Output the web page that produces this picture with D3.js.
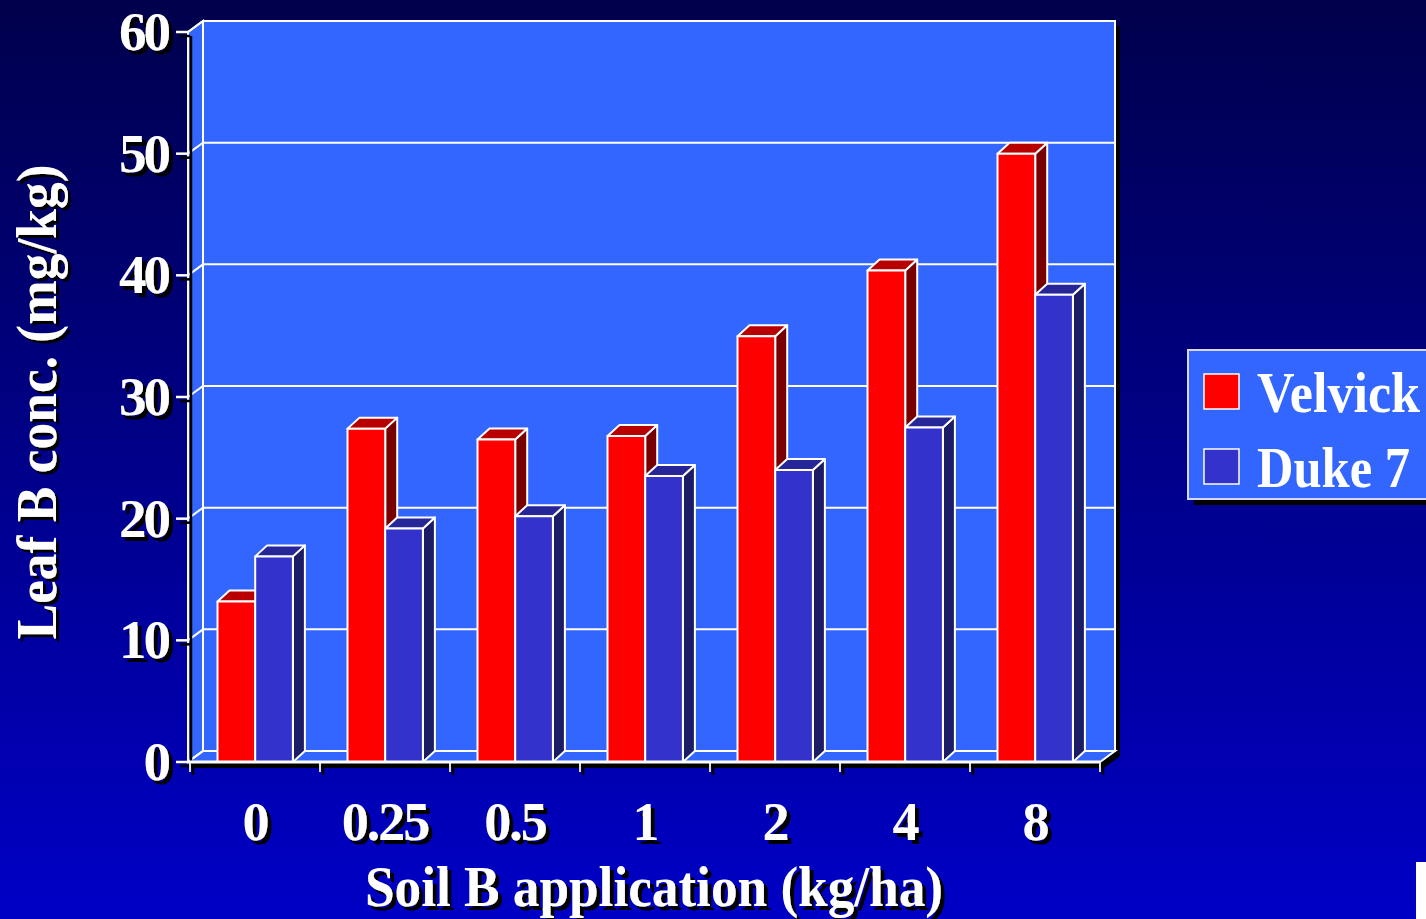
<!DOCTYPE html>
<html>
<head>
<meta charset="utf-8">
<script src="https://cdn.jsdelivr.net/npm/d3@7"></script>
<style>
  html, body { margin: 0; padding: 0; background: #000; }
  svg { display: block; }
  text { font-family: "Liberation Serif", "Times New Roman", serif; font-weight: bold; }
</style>
</head>
<body>
<svg id="chart" width="1426" height="919"></svg>
<script>
// Leaf boron concentration by soil boron application rate
const categories = ["0", "0.25", "0.5", "1", "2", "4", "8"];
const seriesNames = ["Velvick", "Duke 7"];
const velvick = [13.2, 27.4, 26.5, 26.8, 35.0, 40.4, 50.0];
const duke7 = [16.9, 19.2, 20.2, 23.5, 24.0, 27.5, 38.4];
const yTicks = [0, 10, 20, 30, 40, 50, 60];

const seriesValues = [velvick, duke7];
const faceColors = [
  { front: "#ff0000", top: "#b80000", side: "#780000" },
  { front: "#3333cc", top: "#262699", side: "#1c1c66" }
];

const W = 1426, H = 919;
const svg = d3.select("#chart");

// background gradient
const defs = svg.append("defs");
const bg = defs.append("linearGradient").attr("id", "bg").attr("x1", 0).attr("y1", 0).attr("x2", 0).attr("y2", 1);
bg.append("stop").attr("offset", "0%").attr("stop-color", "#00004c");
bg.append("stop").attr("offset", "100%").attr("stop-color", "#0000c6");
svg.append("rect").attr("width", W).attr("height", H).attr("fill", "url(#bg)");

// black drop shadow for labels
function makeShadow(id, dx, dy) {
  const f = defs.append("filter").attr("id", id)
    .attr("x", "-10%").attr("y", "-20%").attr("width", "130%").attr("height", "150%");
  f.append("feOffset").attr("in", "SourceAlpha").attr("dx", dx).attr("dy", dy).attr("result", "off");
  const m = f.append("feMerge");
  m.append("feMergeNode").attr("in", "off");
  m.append("feMergeNode").attr("in", "SourceGraphic");
}
makeShadow("shadow", 3.5, 3.5);
makeShadow("shadowR", -3, 3); // for text rotated by -90deg

// scales (front plane)
const left = 188, right = 1100;
const y = d3.scaleLinear().domain([0, 60]).range([762, 32]);
const x0 = d3.scaleBand().domain(categories).range([190, 1100]);
const x1 = d3.scaleBand().domain(seriesNames).range([27.5, 27.5 + 75.4]);

// wall depth and bar depth offsets
const DX = 15, DY = -11;
const BDX = 12, BDY = -11;
const y0 = y(0), yTop = y(60);

const line = d3.line();

// drop shadow of the chart frame
svg.append("path")
  .attr("d", line([[left, yTop], [left + DX, yTop + DY], [right + DX, yTop + DY], [right + DX, y0 + DY], [right, y0], [left, y0]]) + "Z")
  .attr("transform", "translate(5,5)")
  .attr("fill", "#000");

const wallFill = "#3366ff";
const stroke = "#ffffff";

// back wall
svg.append("rect")
  .attr("x", left + DX).attr("y", yTop + DY)
  .attr("width", right - left).attr("height", y0 - yTop)
  .attr("fill", wallFill).attr("stroke", stroke).attr("stroke-width", 2);

// left side wall
svg.append("path")
  .attr("d", line([[left, y0], [left + DX, y0 + DY], [left + DX, yTop + DY], [left, yTop]]) + "Z")
  .attr("fill", wallFill).attr("stroke", stroke).attr("stroke-width", 2);

// floor
svg.append("path")
  .attr("d", line([[left, y0], [right, y0], [right + DX, y0 + DY], [left + DX, y0 + DY]]) + "Z")
  .attr("fill", wallFill).attr("stroke", stroke).attr("stroke-width", 2);

// gridlines on the back and side walls
const grid = svg.append("g").attr("stroke", stroke).attr("stroke-width", 2).attr("fill", "none");
yTicks.forEach(v => {
  grid.append("path").attr("d", line([[left, y(v)], [left + DX, y(v) + DY], [right + DX, y(v) + DY]]));
});

// 3D bars
const bars = svg.append("g").attr("stroke", stroke).attr("stroke-width", 2).attr("stroke-linejoin", "round");
categories.forEach((c, i) => {
  seriesNames.forEach((s, k) => {
    const v = seriesValues[k][i];
    const xb = x0(c) + x1(s);
    const w = x1.bandwidth();
    const yt = y(v);
    const col = faceColors[k];
    bars.append("path")
      .attr("d", line([[xb + w, yt], [xb + w + BDX, yt + BDY], [xb + w + BDX, y0 + BDY], [xb + w, y0]]) + "Z")
      .attr("fill", col.side);
    bars.append("path")
      .attr("d", line([[xb, yt], [xb + BDX, yt + BDY], [xb + w + BDX, yt + BDY], [xb + w, yt]]) + "Z")
      .attr("fill", col.top);
    bars.append("rect")
      .attr("x", xb).attr("y", yt).attr("width", w).attr("height", y0 - yt)
      .attr("fill", col.front);
  });
});

// y axis
const yAxis = svg.append("g");
yAxis.append("line").attr("x1", left + 3).attr("x2", left + 3).attr("y1", yTop + 4).attr("y2", y0 + 4).attr("stroke", "#000").attr("stroke-width", 2.5);
yTicks.forEach(v => {
  yAxis.append("line").attr("x1", 180).attr("x2", left + 2).attr("y1", y(v) + 4).attr("y2", y(v) + 4).attr("stroke", "#000").attr("stroke-width", 2.5);
  yAxis.append("line").attr("x1", 176).attr("x2", left).attr("y1", y(v)).attr("y2", y(v)).attr("stroke", stroke).attr("stroke-width", 2.5);
  yAxis.append("text").text(String(v))
    .attr("x", 168).attr("y", y(v) + 18)
    .attr("text-anchor", "end").attr("font-size", 55).attr("letter-spacing", -3)
    .attr("fill", "#fff").attr("filter", "url(#shadow)");
});

// x axis line and ticks
const xAxis = svg.append("g");
xAxis.append("line").attr("x1", left).attr("x2", right + 3).attr("y1", y0 + 4).attr("y2", y0 + 4).attr("stroke", "#000").attr("stroke-width", 4);
xAxis.append("line").attr("x1", right + 3).attr("x2", right + DX + 3).attr("y1", y0 + 4).attr("y2", y0 + DY + 4).attr("stroke", "#000").attr("stroke-width", 4);
const tickXs = categories.map(c => x0(c)).concat([x0.range()[1]]);
tickXs.forEach(tx => {
  xAxis.append("line").attr("x1", tx + 3).attr("x2", tx + 3).attr("y1", y0 + 2).attr("y2", y0 + 13).attr("stroke", "#000").attr("stroke-width", 2.5);
  xAxis.append("line").attr("x1", tx).attr("x2", tx).attr("y1", y0).attr("y2", y0 + 10).attr("stroke", "#ddd").attr("stroke-width", 2);
});
xAxis.append("line").attr("x1", left).attr("x2", right).attr("y1", y0).attr("y2", y0).attr("stroke", stroke).attr("stroke-width", 3);

categories.forEach(c => {
  xAxis.append("text").text(c)
    .attr("x", x0(c) + x0.bandwidth() / 2).attr("y", 840)
    .attr("text-anchor", "middle").attr("font-size", 54).attr("letter-spacing", -2)
    .attr("fill", "#fff").attr("filter", "url(#shadow)");
});

// axis titles
svg.append("text").text("Soil B application (kg/ha)")
  .attr("x", 654).attr("y", 906).attr("text-anchor", "middle").attr("font-size", 56)
  .attr("textLength", 578).attr("lengthAdjust", "spacingAndGlyphs")
  .attr("fill", "#fff").attr("filter", "url(#shadow)");

svg.append("text").text("Leaf B conc. (mg/kg)")
  .attr("x", 0).attr("y", 0).attr("text-anchor", "middle").attr("font-size", 56)
  .attr("textLength", 475).attr("lengthAdjust", "spacingAndGlyphs")
  .attr("transform", "translate(56,402) rotate(-90)")
  .attr("fill", "#fff").attr("filter", "url(#shadowR)");

// legend
const lg = svg.append("g");
lg.append("rect").attr("x", 1194).attr("y", 356).attr("width", 260).attr("height", 149).attr("fill", "#000");
lg.append("rect").attr("x", 1188).attr("y", 350).attr("width", 260).attr("height", 149)
  .attr("fill", wallFill).attr("stroke", "#d8d8ff").attr("stroke-width", 2);
const legY = [374, 449];
const legLen = [163, 153];
seriesNames.forEach((s, k) => {
  lg.append("rect").attr("x", 1204).attr("y", legY[k]).attr("width", 35).attr("height", 35)
    .attr("fill", faceColors[k].front).attr("stroke", "#fff").attr("stroke-width", 1.5);
  lg.append("text").text(s).attr("x", 1257).attr("y", legY[k] + 38)
    .attr("font-size", 57).attr("fill", "#fff")
    .attr("textLength", legLen[k]).attr("lengthAdjust", "spacingAndGlyphs");
});

// small white block at the lower right edge
svg.append("rect").attr("x", 1416).attr("y", 862).attr("width", 10).attr("height", 57).attr("fill", "#fff");
</script>
</body>
</html>
